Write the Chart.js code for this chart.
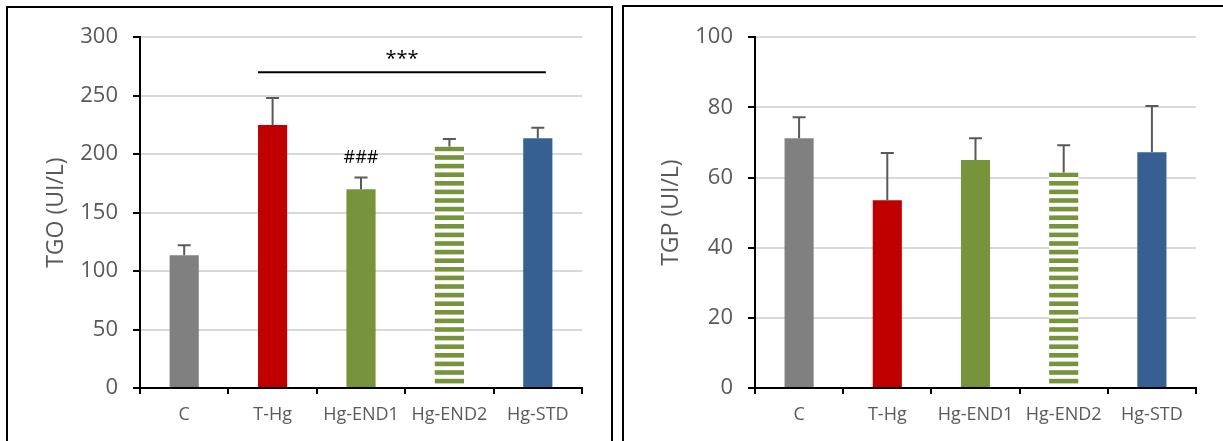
<!DOCTYPE html>
<html>
<head>
<meta charset="utf-8">
<script src="https://cdn.jsdelivr.net/npm/chart.js@4.4.0/dist/chart.umd.min.js"></script>
<style>
  body { margin: 0; background: #fff; width: 1223px; height: 441px; overflow: hidden; position: relative; }
  .panel { position: absolute; border: 2px solid #000; border-bottom: none; pointer-events: none; }
  .wrap { position: absolute; }
</style>
</head>
<body>
<div class="wrap" style="left:9px;top:9px;width:600px;height:432px"><canvas id="tgo"></canvas></div>
<div class="wrap" style="left:624px;top:9px;width:599px;height:432px"><canvas id="tgp"></canvas></div>
<div class="panel" style="left:6px;top:6px;width:603px;height:440px"></div>
<div class="panel" style="left:622px;top:5px;width:610px;height:440px"></div>

<script>
const categories = ['C', 'T-Hg', 'Hg-END1', 'Hg-END2', 'Hg-STD'];

const tgoMeans = [113.5, 225, 170, 206.5, 213.5];
const tgoErrors = [8.5, 23, 10, 6.5, 9];
const tgoTicks = [0, 50, 100, 150, 200, 250, 300];

const tgpMeans = [71.2, 53.5, 65, 61.4, 67.2];
const tgpErrors = [6, 13.5, 6.2, 7.8, 13.2];
const tgpTicks = [0, 20, 40, 60, 80, 100];

// significance marks on the TGO chart
const starsLabel = '***';
const starsLineValue = 270;
const starsTextValue = 276;
const hashLabel = '###';
const hashValue = 192;

const FONT = 'Open Sans';
const TEXT = '#595959';

function stripes() {
  const c = document.createElement('canvas');
  c.width = 10; c.height = 43;
  const g = c.getContext('2d');
  g.fillStyle = '#fff';
  g.fillRect(0, 0, 10, 43);
  g.fillStyle = '#77933c';
  for (let i = 0; i < 5; i++) g.fillRect(0, i * 8.6, 10, 4.6);
  return g.createPattern(c, 'repeat');
}

const colours = ['#808080', '#c00000', '#77933c', stripes(), '#366092'];

const errorBars = {
  id: 'errorBars',
  afterDatasetsDraw(chart) {
    const ctx = chart.ctx;
    const y = chart.scales.y;
    const ds = chart.data.datasets[0];
    const meta = chart.getDatasetMeta(0);
    ctx.save();
    ctx.strokeStyle = '#595959';
    ctx.lineWidth = 2;
    meta.data.forEach((bar, i) => {
      const top = y.getPixelForValue(ds.data[i] + ds.errors[i]);
      ctx.beginPath();
      ctx.moveTo(bar.x, bar.y);
      ctx.lineTo(bar.x, top);
      ctx.moveTo(bar.x - 6.5, top);
      ctx.lineTo(bar.x + 6.5, top);
      ctx.stroke();
    });
    ctx.restore();
  }
};

const marks = {
  id: 'marks',
  afterDatasetsDraw(chart) {
    const ctx = chart.ctx;
    const x = chart.scales.x, y = chart.scales.y;
    const meta = chart.getDatasetMeta(0);
    const first = meta.data[1], last = meta.data[4];
    const ly = y.getPixelForValue(starsLineValue);
    ctx.save();
    ctx.strokeStyle = '#000';
    ctx.lineWidth = 2;
    ctx.beginPath();
    ctx.moveTo(first.x - first.width / 2, ly);
    ctx.lineTo(last.x + 8, ly);
    ctx.stroke();
    ctx.fillStyle = '#000';
    ctx.textAlign = 'center';
    ctx.textBaseline = 'alphabetic';
    ctx.font = '20px "' + FONT + '"';
    ctx.fillText(starsLabel, (first.x - first.width / 2 + last.x + 8) / 2, y.getPixelForValue(starsTextValue));
    ctx.font = '18px "' + FONT + '"';
    ctx.fillText(hashLabel, x.getPixelForValue(2), y.getPixelForValue(hashValue));
    ctx.restore();
  }
};

function makeChart(id, means, errors, ticks, title, extra) {
  return new Chart(document.getElementById(id), {
    type: 'bar',
    data: {
      labels: categories,
      datasets: [{
        data: means,
        errors: errors,
        backgroundColor: colours,
        barPercentage: 0.33,
        categoryPercentage: 1
      }]
    },
    options: {
      responsive: true,
      maintainAspectRatio: false,
      animation: false,
      layout: { padding: { top: 28, right: 27, left: 0, bottom: 0 } },
      plugins: { legend: { display: false }, tooltip: { enabled: false } },
      scales: {
        x: {
          grid: { drawOnChartArea: false, tickLength: 6, tickColor: '#000', lineWidth: 2, offset: true },
          border: { color: '#000', width: 2 },
          ticks: { color: TEXT, font: { family: FONT, size: 18 }, padding: 10 },
          afterFit: s => { s.height = 53; }
        },
        y: {
          min: ticks[0],
          max: ticks[ticks.length - 1],
          afterBuildTicks: s => { s.ticks = ticks.map(v => ({ value: v })); },
          ticks: { color: TEXT, font: { family: FONT, size: 22 }, padding: 15 },
          grid: { color: '#d9d9d9', lineWidth: 2, tickColor: '#000', tickLength: 7 },
          border: { color: '#000', width: 2 },
          title: { display: true, text: title, color: TEXT, font: { family: FONT, size: 23 }, padding: { top: 34, bottom: 0 } },
          afterFit: s => { s.width = 131; }
        }
      }
    },
    plugins: [errorBars].concat(extra)
  });
}

makeChart('tgo', tgoMeans, tgoErrors, tgoTicks, 'TGO (UI/L)', [marks]);
makeChart('tgp', tgpMeans, tgpErrors, tgpTicks, 'TGP (UI/L)', []);
</script>
</body>
</html>
